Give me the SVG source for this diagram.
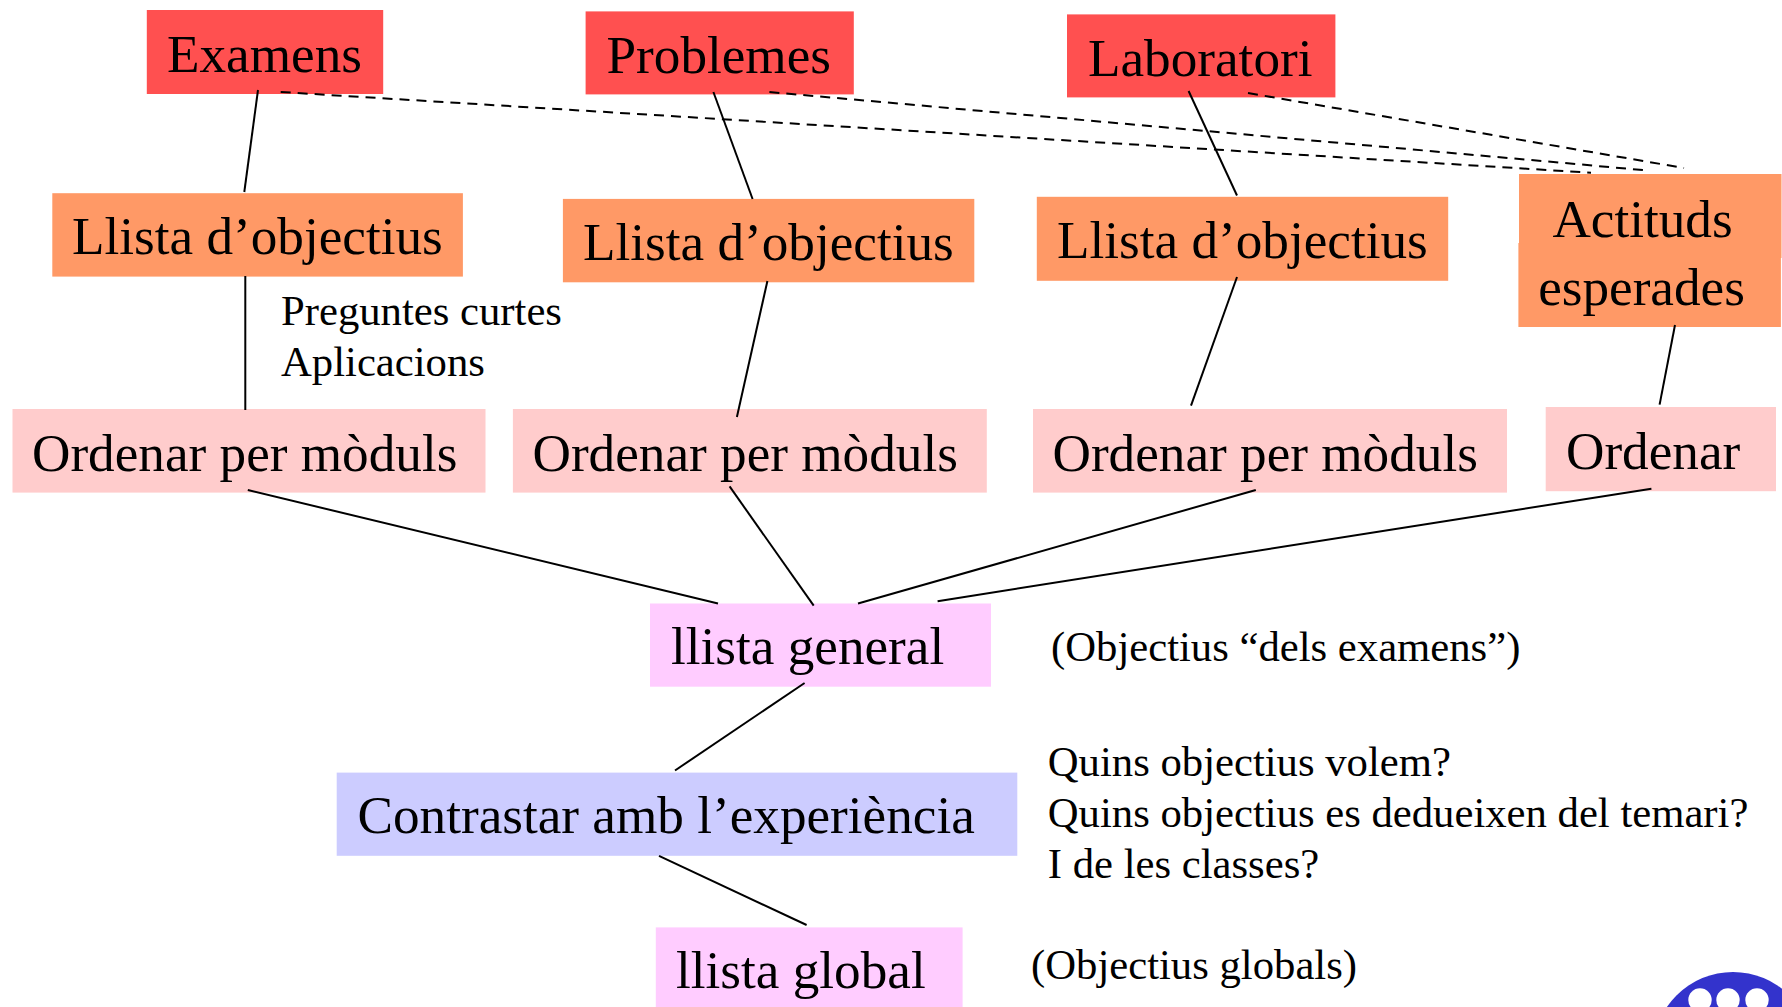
<svg xmlns="http://www.w3.org/2000/svg" width="1782" height="1007" viewBox="0 0 1782 1007">
<style>
text{font-family:"Liberation Serif","Times New Roman",serif;fill:#000}
.b{font-size:53.2px}
.s{font-size:42.7px}
.red{fill:#FF5050}.org{fill:#FF9966}.pnk{fill:#FFCCCC}.mag{fill:#FFCCFF}.blu{fill:#CCCCFF}
#connectors line{stroke:#000;stroke-width:2;fill:none}
#connectors line.d{stroke-dasharray:10 7}
</style>
<rect width="1782" height="1007" fill="#fff"/>
<g id="logo"><circle cx="1733" cy="1052" r="80" fill="#3333CC"/><circle cx="1700" cy="1000" r="11.7" fill="#fff"/><circle cx="1728" cy="1000" r="11.7" fill="#fff"/><circle cx="1757" cy="1000" r="11.7" fill="#fff"/></g>
<g id="n-examens"><rect class="red" x="146.8" y="10" width="236.4" height="84"/><text class="b" x="167" y="71.5">Examens</text></g>
<g id="n-problemes"><rect class="red" x="585.6" y="11.4" width="268.2" height="83"/><text class="b" x="606.5" y="72.5">Problemes</text></g>
<g id="n-laboratori"><rect class="red" x="1067" y="14.4" width="268.4" height="83"/><text class="b" x="1088" y="76">Laboratori</text></g>
<g id="n-llista1"><rect class="org" x="52.3" y="193.2" width="410.6" height="83.4"/><text class="b" x="72" y="254">Llista d’objectius</text></g>
<g id="n-llista2"><rect class="org" x="562.9" y="198.9" width="411.4" height="83.4"/><text class="b" x="583" y="259.5">Llista d’objectius</text></g>
<g id="n-llista3"><rect class="org" x="1036.8" y="196.8" width="411.4" height="84"/><text class="b" x="1057" y="257.5">Llista d’objectius</text></g>
<g id="n-actituds"><rect class="org" x="1519" y="174" width="262.5" height="84"/><rect class="org" x="1518.4" y="243" width="262.5" height="84"/><text class="b" x="1642.5" y="236.5" text-anchor="middle">Actituds</text><text class="b" x="1641.5" y="305" text-anchor="middle">esperades</text></g>
<g id="n-ordenar1"><rect class="pnk" x="12.5" y="409" width="473" height="83.6"/><text class="b" x="32" y="471">Ordenar per mòduls</text></g>
<g id="n-ordenar2"><rect class="pnk" x="512.9" y="409" width="473.9" height="83.6"/><text class="b" x="532.5" y="471">Ordenar per mòduls</text></g>
<g id="n-ordenar3"><rect class="pnk" x="1033" y="409" width="474" height="83.6"/><text class="b" x="1052.5" y="471">Ordenar per mòduls</text></g>
<g id="n-ordenar4"><rect class="pnk" x="1545.7" y="407" width="230.3" height="84.2"/><text class="b" x="1566" y="469">Ordenar</text></g>
<g id="n-general"><rect class="mag" x="650" y="603.5" width="341" height="83.2"/><text class="b" x="671" y="664">llista general</text></g>
<g id="n-contrastar"><rect class="blu" x="336.7" y="772.6" width="680.6" height="83.2"/><text class="b" x="357.5" y="833">Contrastar amb l’experiència</text></g>
<g id="n-global"><rect class="mag" x="655.8" y="927.4" width="306.8" height="79.6"/><text class="b" x="676" y="988">llista global</text></g>
<g id="labels">
<text class="s" x="281" y="324.5">Preguntes curtes</text>
<text class="s" x="281" y="376">Aplicacions</text>
<text class="s" x="1051" y="661">(Objectius “dels examens”)</text>
<text class="s" x="1047.8" y="776">Quins objectius volem?</text>
<text class="s" x="1047.8" y="827">Quins objectius es dedueixen del temari?</text>
<text class="s" x="1047.8" y="878">I de les classes?</text>
<text class="s" x="1031" y="979">(Objectius globals)</text>
</g>
<g id="connectors">
<line x1="258" y1="90" x2="244.3" y2="192"/>
<line x1="245.3" y1="276" x2="245.3" y2="410"/>
<line x1="713.4" y1="92" x2="752.6" y2="199"/>
<line x1="767.4" y1="281" x2="736.9" y2="417"/>
<line x1="1188.6" y1="91" x2="1237" y2="195.5"/>
<line x1="1237" y1="277" x2="1191" y2="405.7"/>
<line x1="1675" y1="325" x2="1659.6" y2="404.6"/>
<line x1="247.8" y1="490" x2="718" y2="603.5"/>
<line x1="729.6" y1="486.4" x2="813.7" y2="605.7"/>
<line x1="1255.8" y1="490" x2="858" y2="603.5"/>
<line x1="1651.4" y1="488.7" x2="937.6" y2="601.2"/>
<line x1="804.6" y1="683" x2="675" y2="770.5"/>
<line x1="659" y1="855.8" x2="806.6" y2="925"/>
<line class="d" x1="280.7" y1="92" x2="1591" y2="172.7"/>
<line class="d" x1="769.4" y1="92" x2="1648" y2="170.5"/>
<line class="d" x1="1248" y1="93" x2="1684" y2="168"/>
</g>
</svg>
